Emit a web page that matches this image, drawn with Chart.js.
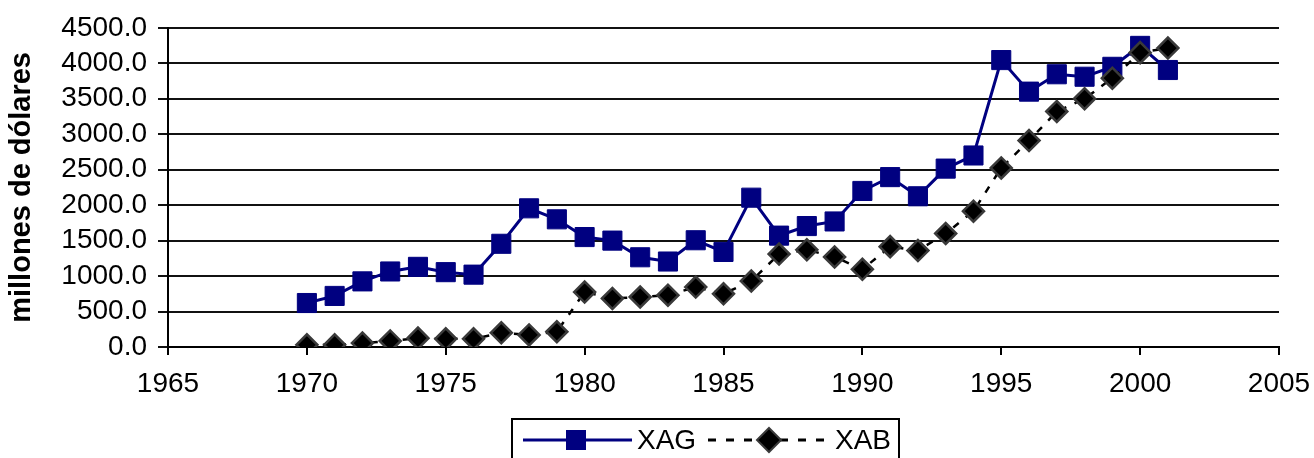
<!DOCTYPE html>
<html>
<head>
<meta charset="utf-8">
<script src="https://cdn.jsdelivr.net/npm/chart.js@4.4.1/dist/chart.umd.min.js"></script>
<style>
  body { margin: 0; background: #fff; }
  #wrap { width: 1314px; height: 458px; }
</style>
</head>
<body>
<div id="wrap"><canvas id="grafico" width="1314" height="458"></canvas></div>
<script>
// años y series (millones de dólares)
const years = [1970, 1971, 1972, 1973, 1974, 1975, 1976, 1977, 1978, 1979,
               1980, 1981, 1982, 1983, 1984, 1985, 1986, 1987, 1988, 1989,
               1990, 1991, 1992, 1993, 1994, 1995, 1996, 1997, 1998, 1999,
               2000, 2001];
const xag = [620, 720, 925, 1065, 1130, 1055, 1020, 1455, 1955, 1800,
             1550, 1500, 1265, 1205, 1505, 1340, 2105, 1570, 1705, 1770,
             2200, 2395, 2125, 2515, 2700, 4045, 3600, 3845, 3810, 3950,
             4245, 3905];
const xab = [30, 30, 55, 85, 125, 115, 115, 200, 170, 215,
             775, 685, 705, 730, 845, 750, 930, 1310, 1370, 1270,
             1095, 1415, 1360, 1600, 1915, 2525, 2910, 3320, 3500, 3790,
             4150, 4215];
const seriesNames = ['XAG', 'XAB'];

const FONT = "'Liberation Sans', Arial, sans-serif";

// leyenda con recuadro, dibujada a mano debajo del eje
const boxLegend = {
    id: 'boxLegend',
    afterDraw(chart) {
        const ctx = chart.ctx;
        const top = 419, left = 512, right = 899, midY = 440;
        ctx.save();
        ctx.strokeStyle = '#000';
        ctx.lineWidth = 2;
        ctx.beginPath();
        ctx.moveTo(left, 470);
        ctx.lineTo(left, top);
        ctx.lineTo(right, top);
        ctx.lineTo(right, 470);
        ctx.stroke();

        ctx.font = '28px ' + FONT;
        ctx.fillStyle = '#000';
        ctx.textBaseline = 'middle';

        // XAG
        const d0 = chart.data.datasets[0];
        ctx.strokeStyle = d0.borderColor;
        ctx.lineWidth = 3;
        ctx.beginPath();
        ctx.moveTo(523, midY);
        ctx.lineTo(632, midY);
        ctx.stroke();
        ctx.fillStyle = d0.pointBackgroundColor;
        ctx.fillRect(566, midY - 10, 20, 20);
        ctx.fillStyle = '#000';
        ctx.fillText(seriesNames[0], 637, midY + 1);

        // XAB
        const d1 = chart.data.datasets[1];
        ctx.strokeStyle = '#000';
        ctx.lineWidth = 3;
        ctx.setLineDash([8, 10]);
        ctx.beginPath();
        ctx.moveTo(708, midY);
        ctx.lineTo(830, midY);
        ctx.stroke();
        ctx.setLineDash([]);
        ctx.fillStyle = d1.pointBackgroundColor;
        ctx.strokeStyle = d1.pointBorderColor;
        ctx.lineWidth = 2;
        ctx.beginPath();
        ctx.moveTo(769, midY - 12);
        ctx.lineTo(781, midY);
        ctx.lineTo(769, midY + 12);
        ctx.lineTo(757, midY);
        ctx.closePath();
        ctx.fill();
        ctx.stroke();
        ctx.fillStyle = '#000';
        ctx.fillText(seriesNames[1], 835, midY + 1);
        ctx.restore();
    }
};

const ctx = document.getElementById('grafico').getContext('2d');
new Chart(ctx, {
    type: 'line',
    data: {
        datasets: [{
            label: seriesNames[0],
            data: years.map((y, i) => ({ x: y, y: xag[i] })),
            borderColor: '#000080',
            borderWidth: 3,
            pointStyle: 'rect',
            pointRadius: 13.5,
            pointBackgroundColor: '#000080',
            pointBorderColor: '#000080',
            pointBorderWidth: 1,
            tension: 0,
            order: 1
        }, {
            label: seriesNames[1],
            data: years.map((y, i) => ({ x: y, y: xab[i] })),
            borderColor: '#000',
            borderWidth: 2.5,
            borderDash: [7, 9],
            pointStyle: 'rectRot',
            pointRadius: 10.5,
            pointBackgroundColor: '#000',
            pointBorderColor: '#3a3a3a',
            pointBorderWidth: 2.5,
            tension: 0,
            order: 0
        }]
    },
    options: {
        responsive: false,
        animation: false,
        layout: { padding: { left: 0, right: 35, top: 26, bottom: 0 } },
        plugins: {
            legend: { display: false },
            tooltip: { enabled: false }
        },
        scales: {
            x: {
                type: 'linear',
                min: 1965,
                max: 2005,
                // alto fijo y sin margen extra por la etiqueta 2005
                afterFit: s => { s.height = 111; s.paddingRight = 0; },
                ticks: {
                    stepSize: 5,
                    autoSkip: false,
                    color: '#000',
                    padding: 12,
                    maxRotation: 0,
                    font: { family: FONT, size: 28 },
                    callback: v => String(v)
                },
                grid: { drawOnChartArea: false, drawTicks: true, tickLength: 8, color: '#000', lineWidth: 2 },
                border: { color: '#000', width: 2 }
            },
            y: {
                min: 0,
                max: 4500,
                afterFit: s => { s.width = 168; },
                ticks: {
                    stepSize: 500,
                    autoSkip: false,
                    color: '#000',
                    padding: 11,
                    font: { family: FONT, size: 28 },
                    callback: v => v.toFixed(1)
                },
                title: {
                    display: true,
                    text: 'millones de dólares',
                    color: '#000',
                    padding: { top: 5, bottom: 0 },
                    font: { family: FONT, size: 29, weight: 'bold' }
                },
                grid: { color: '#111', lineWidth: 2, tickLength: 10 },
                border: { color: '#000', width: 2 }
            }
        }
    },
    plugins: [boxLegend]
});
</script>
</body>
</html>
